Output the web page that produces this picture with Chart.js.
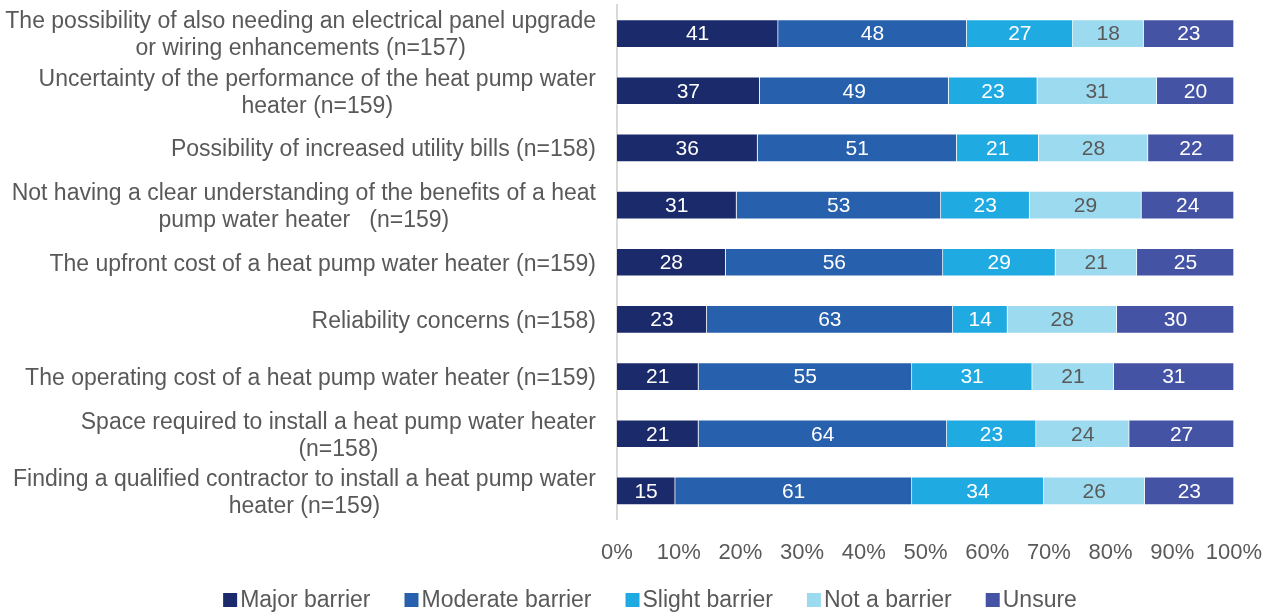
<!DOCTYPE html>
<html>
<head>
<meta charset="utf-8">
<title>Barriers to heat pump water heaters</title>
<script src="https://cdn.jsdelivr.net/npm/chart.js@4/dist/chart.umd.min.js"></script>
<style>
  html, body { margin: 0; padding: 0; background: #fff; }
  #wrap { width: 1270px; height: 614px; }
</style>
</head>
<body>
<div id="wrap"><canvas id="barriers" width="1270" height="614"></canvas></div>
<script>
// ----------------------------
// Data (counts of respondents per answer)
// ----------------------------
const categories = [
  ["The possibility of also needing an electrical panel upgrade", "or wiring enhancements (n=157)"],
  ["Uncertainty of the performance of the heat pump water", "heater (n=159)"],
  ["Possibility of increased utility bills (n=158)"],
  ["Not having a clear understanding of the benefits of a heat", "pump water heater   (n=159)"],
  ["The upfront cost of a heat pump water heater (n=159)"],
  ["Reliability concerns (n=158)"],
  ["The operating cost of a heat pump water heater (n=159)"],
  ["Space required to install a heat pump water heater", "(n=158)"],
  ["Finding a qualified contractor to install a heat pump water", "heater (n=159)"]
];

const majorBarrier    = [41, 37, 36, 31, 28, 23, 21, 21, 15];
const moderateBarrier = [48, 49, 51, 53, 56, 63, 55, 64, 61];
const slightBarrier   = [27, 23, 21, 23, 29, 14, 31, 23, 34];
const notABarrier     = [18, 31, 28, 29, 21, 28, 21, 24, 26];
const unsure          = [23, 20, 22, 24, 25, 30, 31, 27, 23];

const seriesNames  = ["Major barrier", "Moderate barrier", "Slight barrier", "Not a barrier", "Unsure"];
const seriesColors = ["#1b2a6b", "#2760ad", "#20aae2", "#9cdaef", "#4453a4"];
const valueColors  = ["#ffffff", "#ffffff", "#ffffff", "#595959", "#ffffff"];

const percentTicks = [0, 10, 20, 30, 40, 50, 60, 70, 80, 90, 100];

// ----------------------------
// Helpers
// ----------------------------
const FONT = '"Liberation Sans", Arial, sans-serif';
const TEXT = '#595959';

const allCounts = [majorBarrier, moderateBarrier, slightBarrier, notABarrier, unsure];
const rowTotals = categories.map((_, i) => allCounts.reduce((s, arr) => s + arr[i], 0));
const toPercent = arr => arr.map((v, i) => v / rowTotals[i] * 100);

// category labels: block right aligned, lines centred on each other
const rowLabels = {
  id: 'rowLabels',
  afterDraw(chart) {
    const { ctx } = chart;
    const y = chart.scales.y;
    const right = chart.chartArea.left - 21;
    const lineH = 27;
    ctx.save();
    ctx.font = '23px ' + FONT;
    ctx.fillStyle = TEXT;
    ctx.textAlign = 'center';
    ctx.textBaseline = 'middle';
    categories.forEach((lines, i) => {
      const yc = y.getPixelForTick(i) + 2;
      const w = Math.max(...lines.map(l => ctx.measureText(l).width));
      const xc = right - w / 2;
      lines.forEach((l, j) => {
        ctx.fillText(l, xc, yc + (j - (lines.length - 1) / 2) * lineH);
      });
    });
    ctx.restore();
  }
};

// counts written in the middle of every segment
const valueLabels = {
  id: 'valueLabels',
  afterDatasetsDraw(chart) {
    const { ctx } = chart;
    ctx.save();
    ctx.font = '21px ' + FONT;
    ctx.textAlign = 'center';
    ctx.textBaseline = 'middle';
    chart.data.datasets.forEach((ds, k) => {
      const meta = chart.getDatasetMeta(k);
      ctx.fillStyle = valueColors[k];
      meta.data.forEach((bar, i) => {
        const cx = (bar.x + bar.base) / 2;
        ctx.fillText(String(ds.counts[i]), cx, bar.y + 1);
      });
    });
    ctx.restore();
  }
};

// legend row under the axis
const legendRow = {
  id: 'legendRow',
  afterDraw(chart) {
    const { ctx } = chart;
    const box = 14, gap = 3, spacing = 34;
    const yc = 600;
    ctx.save();
    ctx.font = '23px ' + FONT;
    ctx.textBaseline = 'middle';
    ctx.textAlign = 'left';
    const widths = seriesNames.map(n => ctx.measureText(n).width);
    const total = widths.reduce((s, w) => s + box + gap + w, 0) + spacing * (seriesNames.length - 1);
    let x = 650 - total / 2;
    seriesNames.forEach((name, k) => {
      ctx.fillStyle = seriesColors[k];
      ctx.fillRect(x, yc - box / 2, box, box);
      ctx.fillStyle = TEXT;
      ctx.fillText(name, x + box + gap, yc + 1);
      x += box + gap + widths[k] + spacing;
    });
    ctx.restore();
  }
};

// ----------------------------
// Chart
// ----------------------------
const chart = new Chart(document.getElementById('barriers'), {
  type: 'bar',
  data: {
    labels: categories.map(c => c.join(' ')),
    datasets: allCounts.map((arr, k) => ({
      label: seriesNames[k],
      data: toPercent(arr),
      counts: arr,
      backgroundColor: seriesColors[k],
      borderColor: 'rgba(255,255,255,0.55)',
      borderWidth: 1,
      barThickness: 28
    }))
  },
  options: {
    indexAxis: 'y',
    responsive: false,
    animation: false,
    layout: { padding: { top: 5, right: 36, left: 0, bottom: 0 } },
    plugins: {
      legend: { display: false },
      tooltip: { enabled: false }
    },
    scales: {
      x: {
        stacked: true,
        min: 0,
        max: 100,
        afterBuildTicks: scale => { scale.ticks = percentTicks.map(v => ({ value: v })); },
        ticks: {
          callback: v => v + '%',
          font: { size: 22, family: FONT },
          color: TEXT,
          padding: 12,
          maxRotation: 0
        },
        grid: { display: false },
        border: { display: false },
        afterFit: scale => {
          scale.height = 94.5;
          scale.paddingLeft = 0;
          scale.paddingRight = 0;
        }
      },
      y: {
        stacked: true,
        ticks: { display: false },
        grid: { display: false },
        border: { color: '#d9d9d9', width: 2 },
        afterFit: scale => { scale.width = 617; }
      }
    }
  },
  plugins: [rowLabels, valueLabels, legendRow]
});
</script>
</body>
</html>
